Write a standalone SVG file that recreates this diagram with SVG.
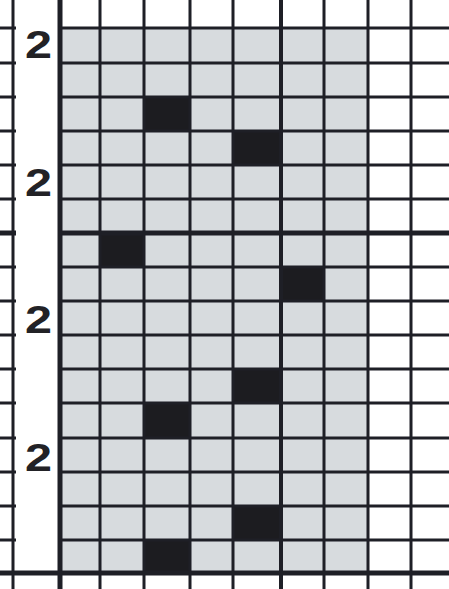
<svg xmlns="http://www.w3.org/2000/svg" width="449" height="589" viewBox="0 0 449 589">
<style>
.bg{fill:#ffffff}
.shade{fill:#d7dbde}
.blk{fill:#1c1c20}
.ln{stroke:#1e1f26;stroke-width:3;fill:none}
.thk{stroke:#1e1f26;stroke-width:5;fill:none}
.lbl{font-family:"Liberation Sans",Arial,sans-serif;font-weight:bold;font-size:38px;fill:#222226}
</style>
<rect class="bg" x="0" y="0" width="449" height="589"/>
<rect class="shade" x="60" y="28" width="308" height="545"/>
<g id="black-cells">
<rect class="blk" x="144" y="97" width="46" height="34"/>
<rect class="blk" x="233" y="131" width="48" height="34"/>
<rect class="blk" x="100" y="233" width="44" height="34"/>
<rect class="blk" x="281" y="267" width="43" height="34"/>
<rect class="blk" x="233" y="369" width="48" height="34"/>
<rect class="blk" x="144" y="403" width="46" height="35"/>
<rect class="blk" x="233" y="506" width="48" height="34"/>
<rect class="blk" x="144" y="540" width="46" height="33"/>
</g>
<g id="grid">
<line class="ln" x1="13" y1="0" x2="13" y2="589"/>
<line class="thk" x1="60" y1="0" x2="60" y2="589"/>
<line class="ln" x1="100" y1="0" x2="100" y2="589"/>
<line class="ln" x1="144" y1="0" x2="144" y2="589"/>
<line class="ln" x1="190" y1="0" x2="190" y2="589"/>
<line class="ln" x1="233" y1="0" x2="233" y2="589"/>
<line class="ln" x1="281" y1="0" x2="281" y2="589" style="stroke-width:4"/>
<line class="ln" x1="324" y1="0" x2="324" y2="589"/>
<line class="ln" x1="368" y1="0" x2="368" y2="589"/>
<line class="ln" x1="411" y1="0" x2="411" y2="589"/>
<path class="ln" d="M0 28H16M58 28H449M0 63H16M58 63H449M0 97H16M58 97H449M0 131H16M58 131H449M0 165H16M58 165H449M0 199H16M58 199H449M0 267H16M58 267H449M0 301H16M58 301H449M0 335H16M58 335H449M0 369H16M58 369H449M0 403H16M58 403H449M0 438H16M58 438H449M0 472H16M58 472H449M0 506H16M58 506H449M0 540H16M58 540H449"/>
<path class="thk" d="M0 233H16M58 233H449M0 573H449"/>
</g>
<g id="labels">
<text class="lbl" x="25" y="58" textLength="27" lengthAdjust="spacingAndGlyphs">2</text>
<text class="lbl" x="25" y="196" textLength="27" lengthAdjust="spacingAndGlyphs">2</text>
<text class="lbl" x="25" y="333" textLength="27" lengthAdjust="spacingAndGlyphs">2</text>
<text class="lbl" x="25" y="471" textLength="27" lengthAdjust="spacingAndGlyphs">2</text>
</g>
</svg>
